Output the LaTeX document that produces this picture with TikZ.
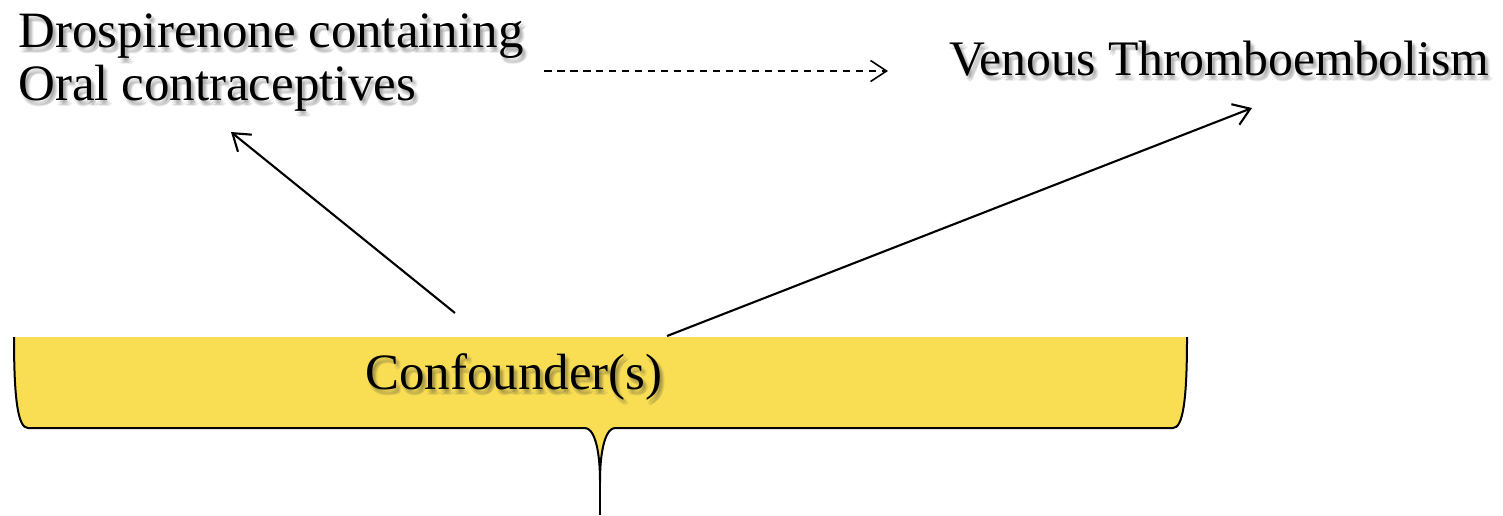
\documentclass[tikz,border=0pt]{standalone}
\usepackage{fontspec}
\setmainfont{Liberation Serif}
\usetikzlibrary{arrows.meta,calc}
\definecolor{braceyellow}{RGB}{249,222,84}
\definecolor{shadowgray}{RGB}{60,60,60}
\tikzset{
  lbl/.style={inner sep=0pt, font=\fontsize{29}{30.2}\selectfont, text=black},
  shd/.style={text=shadowgray, opacity=0.09},
  conn/.style={line width=0.42mm, -{Straight Barb[length=3.2mm, width=4.4mm, line width=0.42mm]}},
  dconn/.style={line width=0.3mm, dash pattern=on 1.5mm off 1.1mm, -{Straight Barb[length=3.2mm, width=4.2mm, line width=0.32mm]}},
  bracestroke/.style={line width=0.4mm, line join=round}
}
\newcommand{\shadowed}[4]{%
  \foreach \dx/\dy in {2/3,4/5,3/6,5/4,1/5,3/2}{%
    \node[lbl, #4, shd, anchor=#1] at ($(#2)+(\dx,\dy)$) {#3};
  }%
}
\begin{document}
\begin{tikzpicture}[x=0.02cm, y=-0.02cm]
\useasboundingbox (0,0) rectangle (1503,515);
% brace shape
\fill[braceyellow] (14,337) -- (1187,337)
  .. controls (1187,400) and (1183,428) .. (1173,428) -- (615,428)
  .. controls (607,428) and (600,445) .. (600,482)
  .. controls (600,445) and (593,428) .. (585,428) -- (28,428)
  .. controls (18,428) and (14,400) .. (14,337) -- cycle;
\draw[bracestroke] (14,337) .. controls (14,400) and (18,428) .. (28,428) -- (585,428)
  .. controls (593,428) and (600,445) .. (600,482)
  .. controls (600,445) and (607,428) .. (615,428) -- (1173,428)
  .. controls (1183,428) and (1187,400) .. (1187,337);
\draw[line width=0.55mm] (600,480) -- (600,515);
% soft text shadows
\shadowed{base west}{18,47}{Drospirenone containing}{}
\shadowed{base west}{18,100}{Oral contraceptives}{}
\shadowed{base west}{949,75}{Venous Thromboembolism}{font=\fontsize{28.3}{30}\selectfont}
\shadowed{base west}{365,389}{Confounder(s)}{}
% labels
\node[lbl, anchor=base west] (drsp) at (18,47) {Drospirenone containing};
\node[lbl, anchor=base west] (oral) at (18,100) {Oral contraceptives};
\node[lbl, anchor=base west, font=\fontsize{28.3}{30}\selectfont] (vte) at (949,75) {Venous Thromboembolism};
\node[lbl, anchor=base west] (conf) at (365,389) {Confounder(s)};
% connector end points
\coordinate (d1) at (544,71);
\coordinate (d2) at (888,71);
\coordinate (l1) at (455,313);
\coordinate (l2) at (231,132);
\coordinate (r1) at (667,336);
\coordinate (r2) at (1252,108);
\draw[dconn] (d1) -- (d2);
\draw[conn] (l1) -- (l2);
\draw[conn] (r1) -- (r2);
\end{tikzpicture}
\end{document}
